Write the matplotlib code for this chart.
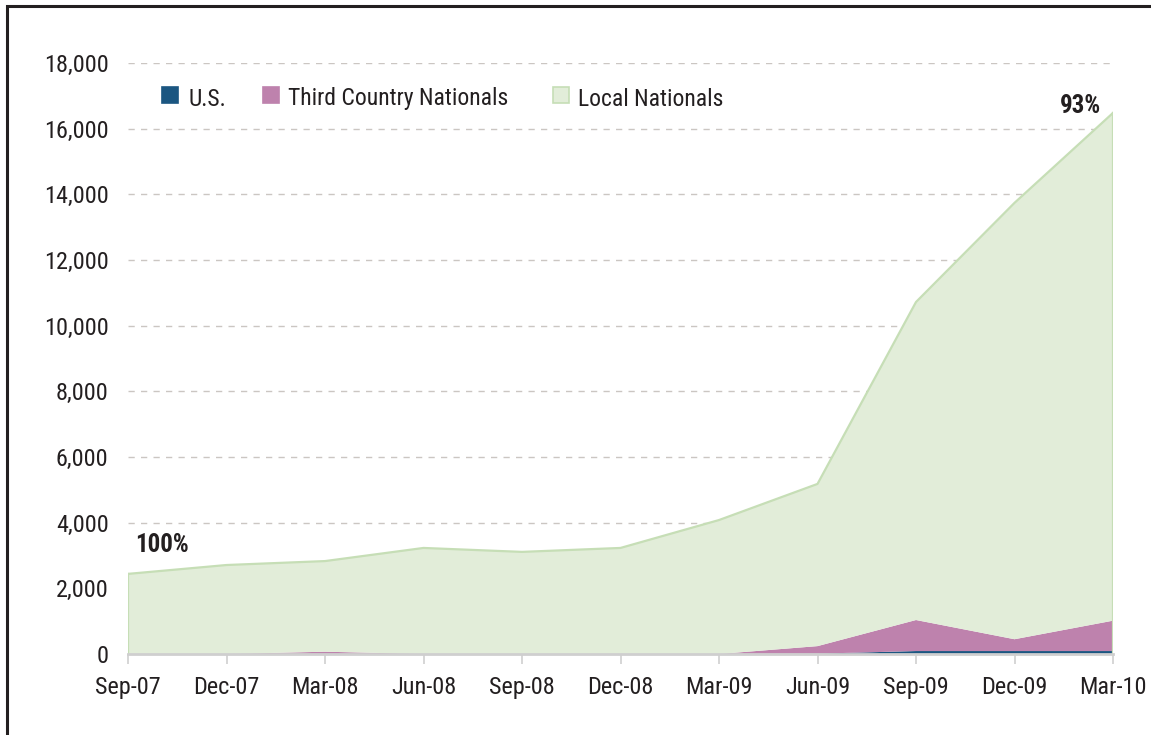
import matplotlib
matplotlib.use("Agg")
import matplotlib.pyplot as plt
from matplotlib.patches import Rectangle
from matplotlib import font_manager
import numpy as np

# ---- data ----
quarters = ["Sep-07", "Dec-07", "Mar-08", "Jun-08", "Sep-08", "Dec-08",
            "Mar-09", "Jun-09", "Sep-09", "Dec-09", "Mar-10"]
us = [0, 0, 0, 0, 0, 0, 0, 10, 90, 90, 90]
third_country = [0, 0, 70, 0, 0, 0, 0, 230, 945, 360, 925]
total = [2440, 2710, 2830, 3230, 3110, 3230, 4080, 5180, 10720, 13740, 16480]
local_nationals = [t - u - c for t, u, c in zip(total, us, third_country)]
yticks = [0, 2000, 4000, 6000, 8000, 10000, 12000, 14000, 16000, 18000]
series_labels = ["U.S.", "Third Country Nationals", "Local Nationals"]
start_share = "100%"
end_share = "93%"

available = {f.name for f in font_manager.fontManager.ttflist}
FONT = [n for n in ["Liberation Sans Narrow", "Roboto Condensed",
                    "Open Sans Condensed"] if n in available] + ["DejaVu Sans"]
plt.rcParams["font.family"] = FONT
plt.rcParams["font.stretch"] = "condensed"
FS_TICK = 17.5
FS_LEG = 17
FS_ANN = 18

C_US = "#1b5681"
C_TCN = "#be82ad"
C_LN = "#e2edd9"
C_LN_EDGE = "#c6deb6"
TXT = "#231f20"

W, H = 1151, 735
fig = plt.figure(figsize=(W / 100, H / 100), dpi=100)
ax = fig.add_axes([128 / W, (H - 654) / H, 985 / W, 591 / H])

x = np.arange(len(quarters))
ax.stackplot(x, us, third_country, local_nationals,
             colors=[C_US, C_TCN, C_LN], linewidth=0)
ax.plot(x, total, color=C_LN_EDGE, lw=1.6, zorder=3)
ax.plot([x[0], x[0]], [0, total[0]], color=C_LN_EDGE, lw=1.6, zorder=3)
ax.plot([x[-1], x[-1]], [0, total[-1]], color=C_LN_EDGE, lw=1.6, zorder=3)

ax.set_xlim(0, len(quarters) - 1)
ax.set_ylim(0, 18000)
ax.set_yticks(yticks)
ax.set_yticklabels([f"{v:,}" for v in yticks])
ax.set_xticks(x)
ax.set_xticklabels(quarters)
ax.yaxis.grid(True, linestyle=(0, (4.5, 4.5)), color="#cbc6c2", lw=1.0)
ax.set_axisbelow(True)
for s in ["top", "right", "left"]:
    ax.spines[s].set_visible(False)
ax.spines["bottom"].set_color("#cfcfcf")
ax.spines["bottom"].set_linewidth(2.0)
ax.spines["bottom"].set_zorder(4)
ax.tick_params(axis="y", length=0, pad=14, labelsize=FS_TICK, labelcolor=TXT)
ax.tick_params(axis="x", length=7, width=1.2, color="#cfcfcf", pad=9,
               labelsize=FS_TICK, labelcolor=TXT)

ax.text(x[0] + 0.07, total[0] + 510, start_share, fontsize=FS_ANN, fontweight="bold",
        color=TXT, ha="left", va="bottom")
ax.text(x[-1] - 0.12, total[-1] - 150, end_share, fontsize=FS_ANN, fontweight="bold",
        color=TXT, ha="right", va="bottom")

leg_items = [(162, C_US, None, 189), (263, C_TCN, None, 288), (553, C_LN, C_LN_EDGE, 578)]
for (sx, col, ec, tx), lab in zip(leg_items, series_labels):
    fig.patches.append(Rectangle((sx / W, (H - 103) / H), 16 / W, 16 / H,
                                 transform=fig.transFigure, facecolor=col,
                                 edgecolor=ec if ec else col, lw=1.2))
    fig.text(tx / W, (H - 99) / H, lab, fontsize=FS_LEG, color=TXT,
             ha="left", va="center")

fig.patches.append(Rectangle((7 / W, -0.01), 1.02, (H - 6) / H + 0.01,
                             transform=fig.transFigure, fill=False,
                             edgecolor="#231f20", lw=2.2))

fig.savefig("out.png", dpi=100)
